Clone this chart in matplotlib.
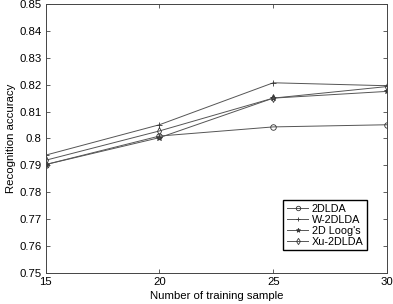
import matplotlib
matplotlib.use("Agg")
import matplotlib.pyplot as plt

# data
samples = [15, 20, 25, 30]
acc_2dlda = [0.7903, 0.8009, 0.8043, 0.8051]
acc_w2dlda = [0.7938, 0.8051, 0.8207, 0.8196]
acc_loog = [0.7903, 0.8003, 0.8150, 0.8175]
acc_xu = [0.7919, 0.8028, 0.8150, 0.8193]

plt.rcParams["font.family"] = ["Liberation Sans", "DejaVu Sans"]
plt.rcParams["font.size"] = 8.2

fig = plt.figure(figsize=(3.93, 3.04), dpi=100)
ax = fig.add_axes([0.116, 0.102, 0.869, 0.885])

line_kw = dict(color="#555555", linewidth=0.7, markersize=4, markeredgewidth=0.6,
               markeredgecolor="#333333")
ax.plot(samples, acc_2dlda, marker="o", markerfacecolor="none", label="2DLDA", **line_kw)
ax.plot(samples, acc_w2dlda, marker="+", label="W-2DLDA", **line_kw)
ax.plot(samples, acc_loog, marker="*", markerfacecolor="#444444", label="2D Loog's", **line_kw)
ax.plot(samples, acc_xu, marker="d", markerfacecolor="none", label="Xu-2DLDA", **line_kw)

ax.set_xlim(15, 30)
ax.set_ylim(0.75, 0.85)
ax.set_xticks(samples)
ax.set_yticks([0.75, 0.76, 0.77, 0.78, 0.79, 0.8, 0.81, 0.82, 0.83, 0.84, 0.85])
ax.set_yticklabels(["0.75", "0.76", "0.77", "0.78", "0.79", "0.8", "0.81", "0.82",
                    "0.83", "0.84", "0.85"])
ax.tick_params(direction="in", top=True, right=True, length=3, width=0.6, pad=3,
               color="#444444")
for s in ax.spines.values():
    s.set_linewidth(0.7)
    s.set_color("#444444")

ax.set_xlabel("Number of training sample", labelpad=3)
ax.set_ylabel("Recognition accuracy", labelpad=2)

leg = ax.legend(loc="lower right", bbox_to_anchor=(0.94, 0.085), fancybox=False,
                edgecolor="black", framealpha=1, borderpad=0.3, labelspacing=0.1,
                handlelength=2.0, handletextpad=0.3, borderaxespad=0,
                prop={"size": 7.8}, markerscale=0.8)
leg.get_frame().set_linewidth(1.0)

fig.savefig("out.png", dpi=100)
